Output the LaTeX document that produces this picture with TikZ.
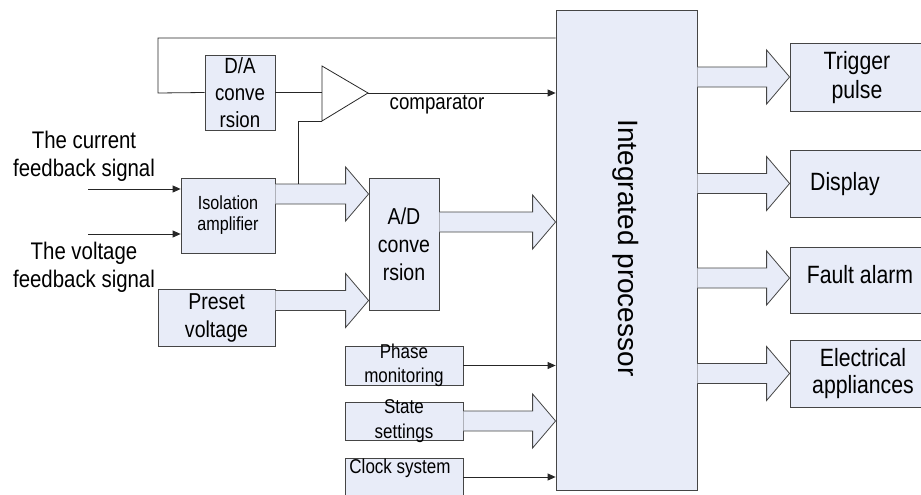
\documentclass[tikz,border=0pt]{standalone}
\usepackage{fontspec}
\setmainfont{Liberation Sans}[FakeStretch=0.85]
\newfontfamily\procfont{Liberation Sans}
\usetikzlibrary{calc,arrows.meta}
\definecolor{boxfill}{HTML}{E8ECF8}
\definecolor{edge}{HTML}{454545}
\newcommand\fsz[2]{\fontsize{#1}{#2}\selectfont}
\newcommand\hollow[2]{%
  \filldraw[big] let \p1=(#1), \p2=(#2) in
   (\x1,\y2+10pt) -- (\x2-23pt,\y2+10pt) -- (\x2-23pt,\y2+27pt) -- (\x2,\y2)
   -- (\x2-23pt,\y2-27pt) -- (\x2-23pt,\y2-10pt) -- (\x1,\y2-10pt);}
\begin{document}
\begin{tikzpicture}[x=1pt,y=-1pt,
  box/.style={draw=edge, fill=boxfill, line width=0.8pt, inner sep=0pt, rectangle},
  txt/.style={align=center, inner sep=0pt, text=black},
  wire/.style={draw=black!85, line width=0.8pt},
  arr/.style={wire, -{Triangle[length=8pt,width=7pt]}},
  big/.style={draw=edge, fill=boxfill, line width=0.8pt, line join=miter}
]
\useasboundingbox (0,0) rectangle (921,495);
\clip (0,0) rectangle (921,495);

% boxes
\node[box, minimum width=141pt, minimum height=480pt] (proc) at (626.5,250) {};
\node[box, minimum width=70pt, minimum height=75pt] (da) at (240,92.5) {};
\node[box, minimum width=94pt, minimum height=75pt] (iso) at (228,215.5) {};
\node[box, minimum width=70pt, minimum height=132pt] (ad) at (404,244) {};
\node[box, minimum width=117pt, minimum height=57pt] (preset) at (216.5,317.5) {};
\node[box, minimum width=118pt, minimum height=39pt] (phase) at (404,365.5) {};
\node[box, minimum width=118pt, minimum height=38pt] (state) at (404,421) {};
\node[box, minimum width=118pt, minimum height=40pt] (clock) at (404,478) {};
\node[box, minimum width=140pt, minimum height=68pt] (trig) at (860,77) {};
\node[box, minimum width=140pt, minimum height=67pt] (disp) at (860,183.5) {};
\node[box, minimum width=140pt, minimum height=66pt] (fault) at (860,280) {};
\node[box, minimum width=140pt, minimum height=67pt] (elec) at (860,373.5) {};

% texts
\node[txt, rotate=-90, font=\procfont\fsz{28}{32}] at (626,248) {Integrated processor};
\node[txt, font=\fsz{22}{27}] at (da) {D/A\\conve\\rsion};
\node[txt, font=\fsz{19}{21}] at (iso) {Isolation\\amplifier};
\node[txt, font=\fsz{23}{28}] at (ad) {A/D\\conve\\rsion};
\node[txt, font=\fsz{23}{28}] at (preset) {Preset\\voltage};
\node[txt, font=\fsz{20}{24}] at (phase) {Phase\\monitoring};
\node[txt, font=\fsz{20}{25}] at (state) {State\\settings};
\node[txt, font=\fsz{20}{23}] at (400,468) {Clock system};
\node[txt, font=\fsz{25}{29}] at (857,77.5) {Trigger\\pulse};
\node[txt, font=\fsz{25}{29}] at (845,184) {Display};
\node[txt, font=\fsz{25}{29}] at (860,275) {Fault alarm};
\node[txt, font=\fsz{25}{27}] at (863,373.5) {Electrical\\appliances};
\node[txt, font=\fsz{24}{28}] (lcur) at (84,156) {The current\\feedback signal};
\node[txt, font=\fsz{24}{28}] (lvol) at (84,267) {The voltage\\feedback signal};
\node[txt, font=\fsz{22}{26}] (lcmp) at (437,105) {comparator};

% comparator
\coordinate (cA) at (322,66);
\coordinate (cB) at (322,121);
\coordinate (cT) at (368,93);
\draw[draw=black!85, line width=0.8pt, line join=miter] (cA) -- (cT) -- (cB) -- cycle;

% hollow arrows
\coordinate (h1) at (ad.west |- 0,194);
\coordinate (h2) at (ad.west |- 0,300.5);
\coordinate (h3) at (proc.west |- 0,222);
\coordinate (h4) at (proc.west |- 0,421);
\coordinate (h5) at (trig.west);
\coordinate (h6) at (disp.west);
\coordinate (h7) at (fault.west |- 0,278);
\coordinate (h8) at (elec.west);
\hollow{iso.east}{h1}
\hollow{preset.east}{h2}
\hollow{ad.east}{h3}
\hollow{state.east}{h4}
\hollow{proc.east}{h5}
\hollow{proc.east}{h6}
\hollow{proc.east}{h7}
\hollow{proc.east}{h8}

% wires
\coordinate (fbk) at (158,93);
\draw[wire] (proc.west |- 0,38) -| (fbk) -- (da.west);
\draw[wire] (da.east) -- (da.east -| cA);
\draw[arr] (cT) -- (cT -| proc.west);
\coordinate (tap) at (298,184);
\draw[wire] (tap) |- (cB);
\coordinate (in1) at (88,189);
\coordinate (in2) at (88,234);
\draw[arr] (in1) -- (in1 -| iso.west);
\draw[arr] (in2) -- (in2 -| iso.west);
\draw[arr] (phase.east) -- (phase.east -| proc.west);
\coordinate (ck) at (clock.east |- 0,477);
\draw[arr] (ck) -- (ck -| proc.west);
\end{tikzpicture}
\end{document}
